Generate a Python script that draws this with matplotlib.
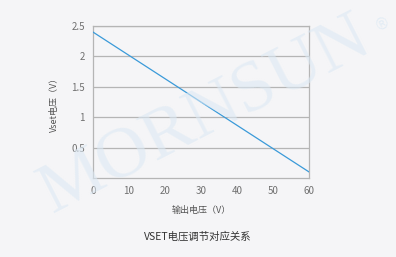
import matplotlib
matplotlib.use("Agg")
import matplotlib.pyplot as plt

plt.rcParams['font.family'] = ['Noto Sans CJK SC', 'DejaVu Sans']

output_voltage = [0, 60]
vset_voltage = [2.4, 0.1]
x_ticks = [0, 10, 20, 30, 40, 50, 60]
y_ticks = [0.5, 1, 1.5, 2, 2.5]

bg = '#f5f5f7'
fig = plt.figure(figsize=(3.96, 2.57), dpi=100, facecolor=bg)

# watermark
fig.text(0.52, 0.55, 'MORNSUN', family='Liberation Serif', fontsize=52,
         color='#dce9f4', alpha=0.6, rotation=27, ha='center', va='center', zorder=0)
fig.text(0.966, 0.91, '®', family='DejaVu Sans', fontsize=11,
         color='#dce9f4', alpha=0.7, rotation=27, ha='center', va='center', zorder=0)

ax = fig.add_axes([93/396, 1 - 178/257, 216/396, 152/257])
ax.set_facecolor('none')
ax.plot(output_voltage, vset_voltage, color='#3a9ad9', lw=0.9, zorder=3)
ax.set_xlim(0, 60)
ax.set_ylim(0, 2.5)
ax.set_xticks(x_ticks)
ax.set_yticks(y_ticks)
ax.set_xticklabels([str(v) for v in x_ticks])
ax.set_yticklabels(['0.5', '1', '1.5', '2', '2.5'])
ax.grid(axis='y', color='#b5b5b5', lw=0.9)
ax.grid(axis='x', visible=False)
for s in ax.spines.values():
    s.set_color('#b5b5b5')
    s.set_linewidth(0.9)
ax.tick_params(length=0, labelsize=7, labelcolor='#707070', pad=6)
ax.set_xlabel('输出电压（V）', fontsize=6.5, color='#555555', labelpad=7)
ax.set_ylabel('Vset电压（V）', fontsize=6.5, color='#555555', labelpad=9)

fig.text(198/396, 1 - 237/257, 'VSET电压调节对应关系', fontsize=7.5, color='#333333',
         ha='center', va='center')

fig.savefig('out.png', dpi=100, facecolor=bg)
